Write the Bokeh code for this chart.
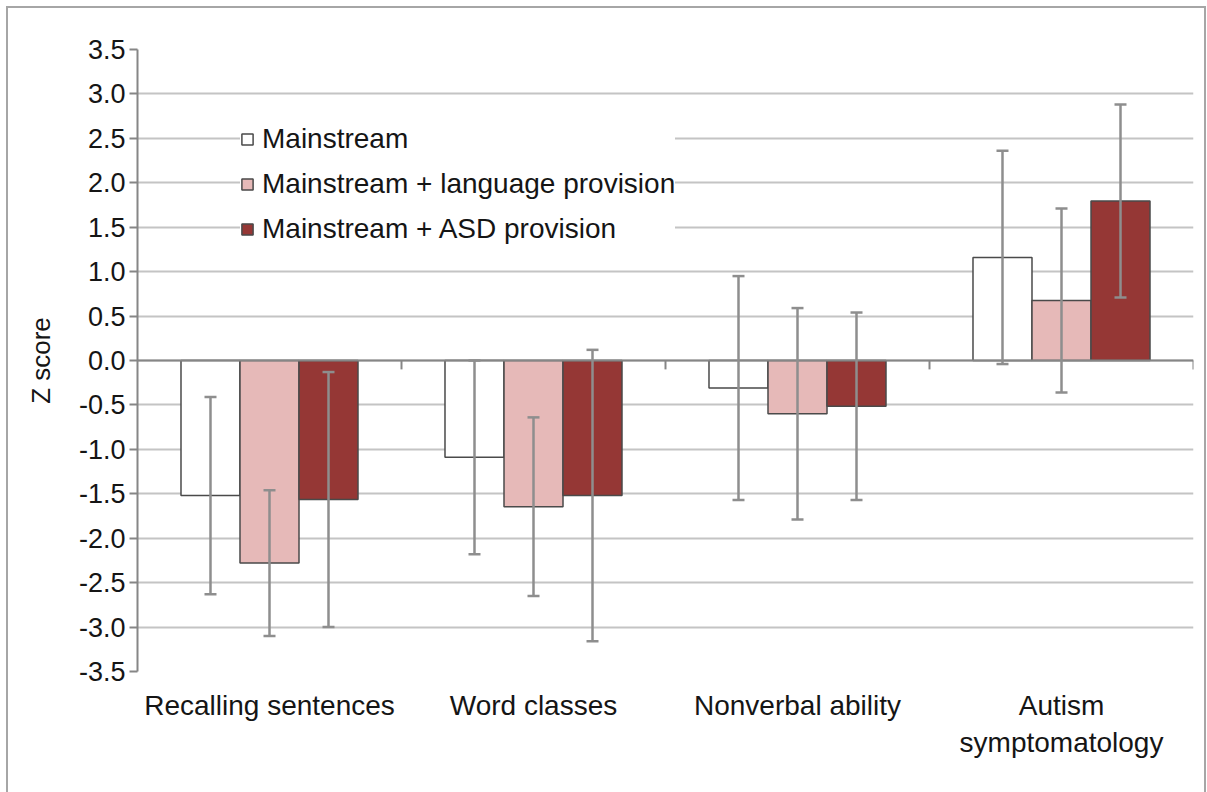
import numpy as np
from bokeh.plotting import figure
from bokeh.models import (ColumnDataSource, Whisker, TeeHead, Span, FixedTicker,
                          Range1d, PrintfTickFormatter)
from bokeh.embed import file_html
from bokeh.resources import INLINE

# ---------------- data ----------------
categories = ["Recalling sentences", "Word classes", "Nonverbal ability", "Autism\nsymptomatology"]
series = ["Mainstream", "Mainstream + language provision", "Mainstream + ASD provision"]

mainstream_mean = [-1.52, -1.09, -0.31, 1.16]
mainstream_sd = [1.11, 1.09, 1.26, 1.20]
language_mean = [-2.28, -1.645, -0.60, 0.675]
language_sd = [0.82, 1.005, 1.19, 1.035]
asd_mean = [-1.565, -1.52, -0.515, 1.795]
asd_sd = [1.435, 1.64, 1.055, 1.087]

y_ticks = [-3.5, -3.0, -2.5, -2.0, -1.5, -1.0, -0.5, 0.0, 0.5, 1.0, 1.5, 2.0, 2.5, 3.0, 3.5]

# ---------------- styles ----------------
fill_colors = ["#ffffff", "#e6b9b8", "#953735"]
bar_line = "#4a4a4a"
err_color = "#8e8e8e"
grid_color = "#c4c4c4"
axis_color = "#868686"
text_color = "#151515"
FONT = "Liberation Sans"

means = [mainstream_mean, language_mean, asd_mean]
sds = [mainstream_sd, language_sd, asd_sd]

n_cat = len(categories)
centers = np.arange(n_cat) + 0.5
bar_w = 0.2235
offsets = [-bar_w, 0.0, bar_w]

p = figure(width=1196, height=784, output_backend="svg", toolbar_location=None,
           x_range=Range1d(0, n_cat), y_range=Range1d(-3.5, 3.5),
           min_border_left=129, min_border_top=41, min_border_right=11,
           min_border_bottom=121)
p.margin = (8, 0, 0, 8)
p.styles = {"outline": "2px solid #a6a6a6"}
p.outline_line_color = None
p.background_fill_color = "white"
p.border_fill_color = "white"

# grid
p.xgrid.grid_line_color = None
p.ygrid.ticker = FixedTicker(ticks=y_ticks)
p.ygrid.grid_line_color = grid_color
p.ygrid.grid_line_width = 2

# bars
for i, name in enumerate(series):
    src = ColumnDataSource(dict(
        x=centers + offsets[i],
        top=np.array(means[i]),
    ))
    p.vbar(x="x", top="top", bottom=0, width=bar_w, source=src,
           fill_color=fill_colors[i], line_color=bar_line, line_width=1.5,
           legend_label=name)

# zero axis line + category boundary ticks
p.add_layout(Span(location=0, dimension="width", line_color=axis_color, line_width=2))
bounds = np.arange(1, n_cat + 1)
p.segment(x0=bounds, y0=np.zeros(n_cat), x1=bounds, y1=np.full(n_cat, -0.1),
          line_color=axis_color, line_width=2)

# error bars
for i, name in enumerate(series):
    src = ColumnDataSource(dict(
        x=centers + offsets[i],
        upper=np.array(means[i]) + np.array(sds[i]),
        lower=np.array(means[i]) - np.array(sds[i]),
    ))
    w = Whisker(source=src, base="x", upper="upper", lower="lower",
                line_color=err_color, line_width=2.5,
                upper_head=TeeHead(size=12, line_color=err_color, line_width=2.5),
                lower_head=TeeHead(size=12, line_color=err_color, line_width=2.5))
    w.level = "annotation"
    p.add_layout(w)

# y axis
yax = p.yaxis[0]
yax.ticker = FixedTicker(ticks=y_ticks)
yax.formatter = PrintfTickFormatter(format="%.1f")
yax.minor_tick_line_color = None
yax.major_tick_in = 0
yax.major_tick_out = 8
yax.major_tick_line_color = axis_color
yax.major_tick_line_width = 2
yax.axis_line_color = axis_color
yax.axis_line_width = 2
yax.major_label_standoff = 4
yax.major_label_text_font = FONT
yax.major_label_text_font_size = "27px"
yax.major_label_text_color = text_color
yax.axis_label = "Z score"
yax.axis_label_text_font = FONT
yax.axis_label_text_font_size = "26px"
yax.axis_label_text_font_style = "normal"
yax.axis_label_text_color = text_color
yax.axis_label_standoff = 20

# x axis (labels only)
xax = p.xaxis[0]
xax.ticker = FixedTicker(ticks=list(centers))
xax.major_label_overrides = {float(c): lab for c, lab in zip(centers, categories)}
xax.axis_line_color = None
xax.major_tick_line_color = None
xax.minor_tick_line_color = None
xax.major_tick_out = 0
xax.major_tick_in = 0
xax.major_label_standoff = 18
xax.major_label_text_font = FONT
xax.major_label_text_font_size = "28px"
xax.major_label_text_color = text_color
xax.major_label_text_align = "center"

# legend
lg = p.legend[0]
lg.location = (103, 420)
lg.border_line_color = None
lg.background_fill_color = "white"
lg.background_fill_alpha = 1.0
lg.padding = 10
lg.margin = 0
lg.spacing = 0
lg.glyph_width = 14
lg.glyph_height = 14
lg.label_height = 45
lg.label_standoff = 8
lg.label_text_font = FONT
lg.label_text_font_size = "28px"
lg.label_text_color = text_color

open("out.html", "w").write(file_html(p, INLINE))
